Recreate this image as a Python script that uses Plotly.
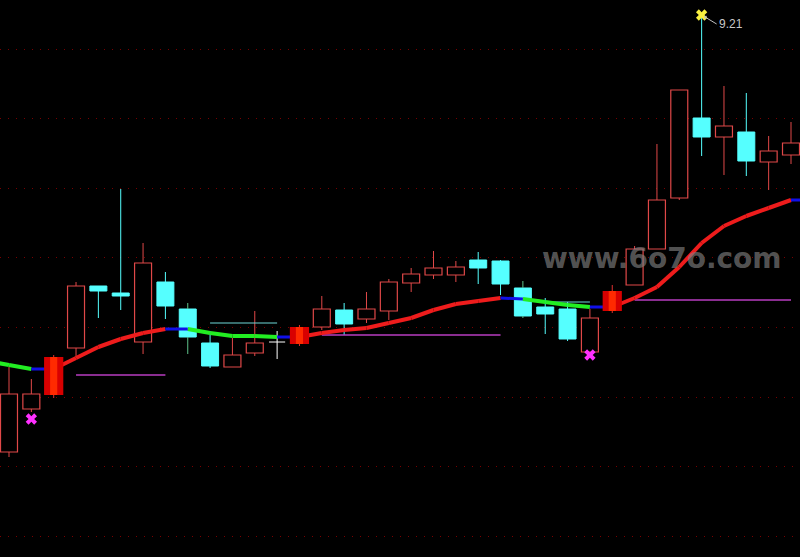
import plotly.graph_objects as go

# ---------------- data ----------------
idx = list(range(36))
opens = [4.84, 5.27, 5.41, 5.88, 6.50, 6.43, 5.94, 6.54, 6.27, 5.93, 5.69, 5.83, 5.94, 5.92, 6.09, 6.26, 6.17, 6.25,
         6.53, 6.61, 6.61, 6.76, 6.75, 6.48, 6.29, 6.27, 5.84, 6.25, 6.51, 6.87, 7.38, 8.18, 7.99, 8.04, 7.74, 7.81]
highs = [5.69, 5.57, 5.81, 6.54, 6.50, 7.47, 6.93, 6.64, 6.33, 6.05, 5.98, 6.25, 6.05, 6.11, 6.40, 6.33, 6.44, 6.57,
         6.68, 6.85, 6.75, 6.84, 6.76, 6.55, 6.38, 6.34, 6.27, 6.51, 6.90, 7.92, 8.46, 9.21, 8.50, 8.43, 8.00, 8.14]
lows = [4.79, 5.24, 5.38, 5.79, 6.18, 6.26, 5.82, 6.17, 5.82, 5.68, 5.69, 5.80, 5.77, 5.90, 6.06, 6.01, 6.13, 6.16,
        6.44, 6.57, 6.54, 6.52, 6.41, 6.18, 6.02, 5.95, 5.84, 6.23, 6.51, 6.87, 7.36, 7.80, 7.61, 7.60, 7.46, 7.72]
closes = [5.42, 5.42, 5.79, 6.50, 6.45, 6.40, 6.73, 6.30, 5.99, 5.70, 5.81, 5.93, 5.94, 6.09, 6.27, 6.12, 6.27, 6.54,
          6.62, 6.68, 6.69, 6.68, 6.52, 6.20, 6.22, 5.97, 6.18, 6.45, 6.87, 7.36, 8.46, 7.99, 8.10, 7.75, 7.85, 7.93]
special_bars = [2, 13, 27]
doji_bars = [12]
green_wick_bars = [8, 23]

ma_prev = 5.75  # MA value of the bar just left of the window
ma = [5.71, 5.67, 5.67, 5.78, 5.89, 5.97, 6.03, 6.07, 6.07, 6.03, 6.00, 6.00, 5.99, 5.99, 6.03, 6.06, 6.08, 6.13,
      6.18, 6.26, 6.32, 6.35, 6.38, 6.37, 6.34, 6.31, 6.29, 6.29, 6.38, 6.49, 6.69, 6.93, 7.10, 7.20, 7.28, 7.36]
# state of each MA segment i -> i+1 (starting from the bar left of the window)
ma_seg = (["down", "down", "turn"] + ["up"] * 5 + ["turn"] + ["down"] * 4 + ["turn"] + ["up"] * 9 + ["turn"]
          + ["down"] * 3 + ["turn"] + ["up"] * 8)

magenta_levels = [(3, 7, 5.61), (14, 22, 6.01), (28, 35, 6.36)]
cyan_levels = [(9, 12, 6.13), (24, 26, 6.34)]
sell_marks_x = [1, 26]
sell_marks_y = [5.17, 5.81]
high_mark_x = [31]
high_mark_y = [9.21]
grid_vals = [4.00, 4.70, 5.39, 6.09, 6.79, 7.48, 8.18, 8.87]

# ---------------- styles ----------------
RED = "#e04848"
CYAN = "#55ffff"
GREENW = "#5ec28a"
BW = 0.76

fig = go.Figure()

# bodies (normal candles)
up_x, up_h, up_b, dn_x, dn_h, dn_b = [], [], [], [], [], []
for i in idx:
    if i in special_bars or i in doji_bars:
        continue
    o, c = opens[i], closes[i]
    if c >= o:
        up_x.append(i); up_b.append(o); up_h.append(c - o)
    else:
        dn_x.append(i); dn_b.append(c); dn_h.append(o - c)

fig.add_trace(go.Bar(x=up_x, y=up_h, base=up_b, width=BW, marker=dict(color="black", line=dict(color=RED, width=1.2))))
fig.add_trace(go.Bar(x=dn_x, y=dn_h, base=dn_b, width=BW, marker=dict(color=CYAN, line=dict(color=CYAN, width=1))))

# wicks
wicks = {RED: ([], []), CYAN: ([], []), GREENW: ([], []), "white": ([], [])}
for i in idx:
    if i in special_bars:
        continue
    o, c, h, l = opens[i], closes[i], highs[i], lows[i]
    top, bot = max(o, c), min(o, c)
    if i in doji_bars:
        col = "white"
    elif i in green_wick_bars:
        col = GREENW
    elif c >= o:
        col = RED
    else:
        col = CYAN
    xs, ys = wicks[col]
    xs += [i, i, None, i, i, None]
    ys += [h, top, None, bot, l, None]
for i in doji_bars:
    xs, ys = wicks["white"]
    xs += [i - 0.36, i + 0.36, None]
    ys += [opens[i], opens[i], None]
for col, (xs, ys) in wicks.items():
    fig.add_trace(go.Scatter(x=xs, y=ys, mode="lines", line=dict(color=col, width=1), hoverinfo="skip"))

# level lines
for levels, col, w in [(magenta_levels, "#b83cc0", 1.5), (cyan_levels, "#6fd8d8", 1)]:
    xs, ys = [], []
    for a, b, v in levels:
        xs += [a, b, None]
        ys += [v, v, None]
    fig.add_trace(go.Scatter(x=xs, y=ys, mode="lines", line=dict(color=col, width=w), hoverinfo="skip"))

# moving average, coloured by segment state
ma_x = [-1] + idx
ma_y = [ma_prev] + ma
ma_cols = {"up": ("#ee1c1c", 4), "down": ("#22ee22", 4), "turn": ("#1010e8", 3)}
for state, (col, w) in ma_cols.items():
    xs, ys = [], []
    for s in range(len(ma_seg)):
        if ma_seg[s] == state:
            xs += [ma_x[s], ma_x[s + 1], None]
            ys += [ma_y[s], ma_y[s + 1], None]
    if state == "turn":
        xs += [idx[-1], idx[-1] + 0.5, None]
        ys += [ma[-1], ma[-1], None]
    fig.add_trace(go.Scatter(x=xs, y=ys, mode="lines", line=dict(color=col, width=w, shape="linear"),
                             connectgaps=False, hoverinfo="skip"))

# special (signal) candles drawn on top
sx_w, sy_w = [], []
for i in special_bars:
    sx_w += [i, i, None]
    sy_w += [highs[i], lows[i], None]
fig.add_trace(go.Scatter(x=sx_w, y=sy_w, mode="lines", line=dict(color="#e03030", width=1), hoverinfo="skip"))
for half, col in [(0.43, "#d80000"), (0.16, "#ff2a00")]:
    xs, ys = [], []
    for i in special_bars:
        o, c = opens[i], closes[i]
        xs += [i - half, i + half, i + half, i - half, i - half, None]
        ys += [o, o, c, c, o, None]
    fig.add_trace(go.Scatter(x=xs, y=ys, mode="lines", fill="toself", fillcolor=col,
                             line=dict(color=col, width=0), hoverinfo="skip"))

# markers
fig.add_trace(go.Scatter(x=sell_marks_x, y=sell_marks_y, mode="markers",
                         marker=dict(symbol="x", size=10, color="#ff30ff"), hoverinfo="skip"))
fig.add_trace(go.Scatter(x=high_mark_x, y=high_mark_y, mode="markers",
                         marker=dict(symbol="x", size=10, color="#f8f040"), hoverinfo="skip"))

fig.add_annotation(x=high_mark_x[0], y=high_mark_y[0], text=f"{high_mark_y[0]:.2f}", showarrow=True,
                   arrowhead=1, arrowsize=0.7, arrowwidth=1, arrowcolor="#c0c0c0", ax=15, ay=9,
                   xanchor="left", standoff=3,
                   font=dict(family="Liberation Sans, Arial", size=12, color="#c8c8c8"))

fig.add_annotation(xref="paper", yref="paper", x=0.8275, y=0.5368, xanchor="center", yanchor="middle",
                   text="<b>www.6o7o.com</b>", showarrow=False,
                   font=dict(family="DejaVu Sans", size=28, color="rgba(130,130,130,0.65)"))

fig.update_layout(
    width=800, height=557, margin=dict(l=0, r=0, t=0, b=0),
    paper_bgcolor="black", plot_bgcolor="black", showlegend=False, barmode="overlay",
    xaxis=dict(range=[-0.403, 35.403], visible=False, showgrid=False, zeroline=False),
    yaxis=dict(range=[3.79, 9.36], tickvals=grid_vals, showticklabels=False, showgrid=True,
               gridcolor="#7a0000", gridwidth=1, griddash="1px,7px", zeroline=False, showline=False, ticks=""),
)

fig.write_html("out.html", config={"displayModeBar": False},
               post_script="document.body.style.margin='0';document.body.style.padding='0';"
                           "document.body.style.background='black';document.body.style.overflow='hidden';")
